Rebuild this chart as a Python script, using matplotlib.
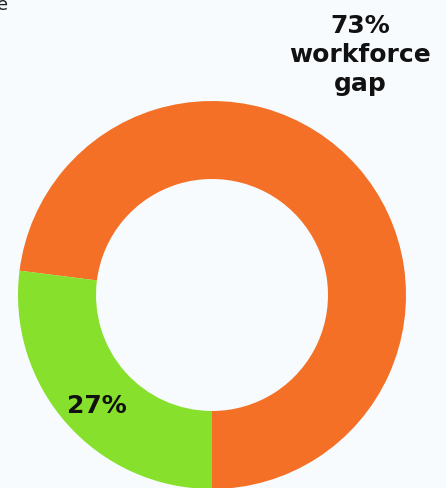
import matplotlib
matplotlib.use("Agg")
import matplotlib.pyplot as plt

# data
labels = ["workforce gap", "covered"]
values = [73, 27]
colors = ["#F37026", "#86E02C"]
bg = "#F7FBFE"

fig = plt.figure(figsize=(4.46, 4.88), dpi=100, facecolor=bg)
ax = fig.add_axes([0, 0, 1, 1])
ax.set_facecolor(bg)

# donut, drawn in pixel-like data coords
ax.pie(values, colors=colors, startangle=-90, counterclock=True,
       center=(212, 193), radius=194,
       wedgeprops=dict(width=78, linewidth=0), frame=True)
ax.set_xlim(0, 446)
ax.set_ylim(0, 488)
ax.set_aspect("equal")
ax.axis("off")

# labels
ax.text(360, 433, f"{values[0]}%\nworkforce\ngap", ha="center", va="center",
        fontsize=18, fontweight="bold", color="#111111", linespacing=1.25,
        family="DejaVu Sans")
ax.text(97, 82, f"{values[1]}%", ha="center", va="center",
        fontsize=18, fontweight="bold", color="#111111", family="DejaVu Sans")

# cut-off fragment in the corner
ax.text(-3, 483, "e", ha="left", va="center", fontsize=13, color="#222222")

fig.savefig("out.png", dpi=100, facecolor=bg)
